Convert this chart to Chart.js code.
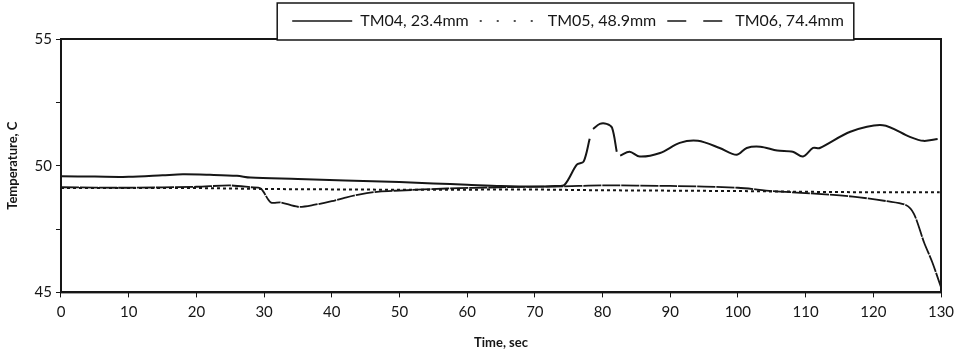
<!DOCTYPE html>
<html>
<head>
<meta charset="utf-8">
<script src="https://cdn.jsdelivr.net/npm/chart.js@4/dist/chart.umd.min.js"></script>
<style>
  html, body { margin: 0; padding: 0; background: #fff; }
  #wrap { width: 969px; height: 359px; }
</style>
</head>
<body>
<div id="wrap"><canvas id="tempChart" width="969" height="359"></canvas></div>
<script>
// TM04 - solid, breaks at ~78 s and ~82 s
const timeTM04 = [0, 5, 10, 15, 18, 22, 26, 28, 35, 42, 50, 55, 60, 65, 70, 73, 74.4, 76.2, 77.2, 78.1, 78.3,
  78.6, 79.6, 80.6, 81.4, 82.1, 82.3, 82.6, 84, 85.5, 88.5, 91.4, 94.1, 97.3, 99.8, 101.3, 103.3, 105.8,
  108.1, 109.6, 111.1, 112.1, 116.6, 121.4, 125.4, 127.4, 129.5];
const tempTM04 = [49.58, 49.57, 49.56, 49.62, 49.66, 49.64, 49.6, 49.53, 49.48, 49.42, 49.36, 49.3, 49.25, 49.2, 49.18, 49.2, 49.25, 50.04, 50.16, 51.06, null,
  51.45, 51.65, 51.65, 51.5, 50.55, null, 50.4, 50.55, 50.36, 50.5, 50.9, 50.98, 50.7, 50.43, 50.7, 50.75, 50.6,
  50.55, 50.36, 50.7, 50.7, 51.34, 51.6, 51.14, 50.98, 51.05];

// TM05 - dotted
const timeTM05 = [0, 20, 30, 50, 70, 80, 100, 110, 120, 129.8];
const tempTM05 = [49.12, 49.12, 49.08, 49.05, 49.06, 49.03, 49.0, 48.97, 48.95, 48.95];

// TM06 - dashed
const timeTM06 = [0, 10, 20, 25, 28, 29.5, 31, 32.5, 35, 37.5, 40, 42, 44, 47, 50, 57, 65, 73, 80, 90, 100,
  105, 110, 117, 122, 124.8, 126, 127.5, 128.7, 130];
const tempTM06 = [49.15, 49.13, 49.17, 49.22, 49.15, 49.1, 48.55, 48.55, 48.38, 48.46, 48.6, 48.74, 48.86, 48.98, 49.02, 49.1, 49.15, 49.18, 49.22, 49.2, 49.13,
  49.0, 48.92, 48.78, 48.6, 48.45, 48.1, 46.97, 46.2, 45.2];

const seriesLabels = ['TM04, 23.4mm', 'TM05, 48.9mm', 'TM06, 74.4mm'];
const xTicks = [0, 10, 20, 30, 40, 50, 60, 70, 80, 90, 100, 110, 120, 130];
const yTicks = [45, 50, 55];

const FONT = 'Lato, "Open Sans", sans-serif';
const INK = '#161616';
const LEGEND_SHIFT = 95;

function toPoints(times, temps) {
  return times.map((t, i) => ({ x: t, y: temps[i] }));
}

// plot frame and boxed legend (legend sits right of centre in the original)
const frameBox = {
  id: 'frameBox',
  afterLayout(chart) {
    const legend = chart.legend;
    if (!legend) return;
    legend.left += LEGEND_SHIFT;
    legend.right += LEGEND_SHIFT;
    (legend.legendHitBoxes || []).forEach(b => { b.left += LEGEND_SHIFT; });
  },
  beforeDraw(chart) {
    const { ctx, chartArea: a, legend } = chart;
    ctx.save();
    ctx.strokeStyle = INK;
    ctx.lineWidth = 2;
    ctx.strokeRect(a.left, a.top, a.right - a.left, a.bottom - a.top);
    if (legend && legend.legendHitBoxes && legend.legendHitBoxes.length) {
      const boxes = legend.legendHitBoxes;
      const x0 = boxes[0].left - 15;
      const last = boxes[boxes.length - 1];
      const x1 = last.left + last.width + 10;
      ctx.fillStyle = '#fff';
      ctx.fillRect(x0, 3, x1 - x0, 37);
      ctx.lineWidth = 1.5;
      ctx.strokeRect(x0, 3, x1 - x0, 37);
    }
    ctx.restore();
  }
};

function createChart() {
  const ctx = document.getElementById('tempChart').getContext('2d');
  new Chart(ctx, {
    type: 'line',
    data: {
      datasets: [
        {
          label: seriesLabels[0],
          data: toPoints(timeTM04, tempTM04),
          borderColor: INK,
          borderWidth: 2,
          pointRadius: 0,
          tension: 0.3,
          spanGaps: false
        },
        {
          label: seriesLabels[1],
          data: toPoints(timeTM05, tempTM05),
          borderColor: INK,
          borderWidth: 2,
          borderDash: [3, 3],
          pointRadius: 0,
          tension: 0
        },
        {
          label: seriesLabels[2],
          data: toPoints(timeTM06, tempTM06),
          borderColor: INK,
          borderWidth: 1.8,
          borderDash: [18, 1],
          pointRadius: 0,
          tension: 0.3
        }
      ]
    },
    options: {
      responsive: false,
      animation: false,
      layout: { padding: { left: 5, right: 28, top: 2, bottom: 8 } },
      plugins: {
        tooltip: { enabled: false },
        legend: {
          position: 'top',
          align: 'center',
          labels: {
            color: INK,
            font: { family: FONT, size: 16 },
            usePointStyle: true,
            pointStyle: 'line',
            pointStyleWidth: 60,
            padding: 11,
            generateLabels(chart) {
              const items = Chart.defaults.plugins.legend.labels.generateLabels(chart);
              const dashes = [[], [2, 15], [19, 17]];
              items.forEach((it, i) => {
                it.lineDash = dashes[i];
                it.lineWidth = 1.5;
                it.pointStyle = 'line';
              });
              return items;
            }
          }
        }
      },
      scales: {
        x: {
          type: 'linear',
          min: 0,
          max: 130,
          afterBuildTicks(scale) {
            scale.ticks = xTicks.map(v => ({ value: v }));
          },
          grid: { drawOnChartArea: false, tickLength: 5, color: INK },
          border: { display: true, color: INK, width: 2 },
          ticks: { color: INK, font: { family: FONT, size: 15 }, padding: 6, maxRotation: 0 },
          title: {
            display: true,
            text: 'Time, sec',
            color: INK,
            font: { family: FONT, size: 13, weight: 'bold' },
            padding: { top: 8, bottom: 0 }
          }
        },
        y: {
          min: 45,
          max: 55,
          afterBuildTicks(scale) {
            scale.ticks = [45, 47.5, 50, 52.5, 55].map(v => ({ value: v }));
          },
          grid: { drawOnChartArea: false, tickLength: 5, color: INK },
          border: { display: true, color: INK, width: 2 },
          ticks: {
            color: INK,
            font: { family: FONT, size: 15 },
            padding: 4,
            callback: v => yTicks.includes(v) ? String(v) : ''
          },
          title: {
            display: true,
            text: 'Temperature, C',
            color: INK,
            font: { family: FONT, size: 13, weight: 'bold' },
            padding: { top: 0, bottom: 10 }
          }
        }
      }
    },
    plugins: [frameBox]
  });
}

createChart();
</script>
</body>
</html>
